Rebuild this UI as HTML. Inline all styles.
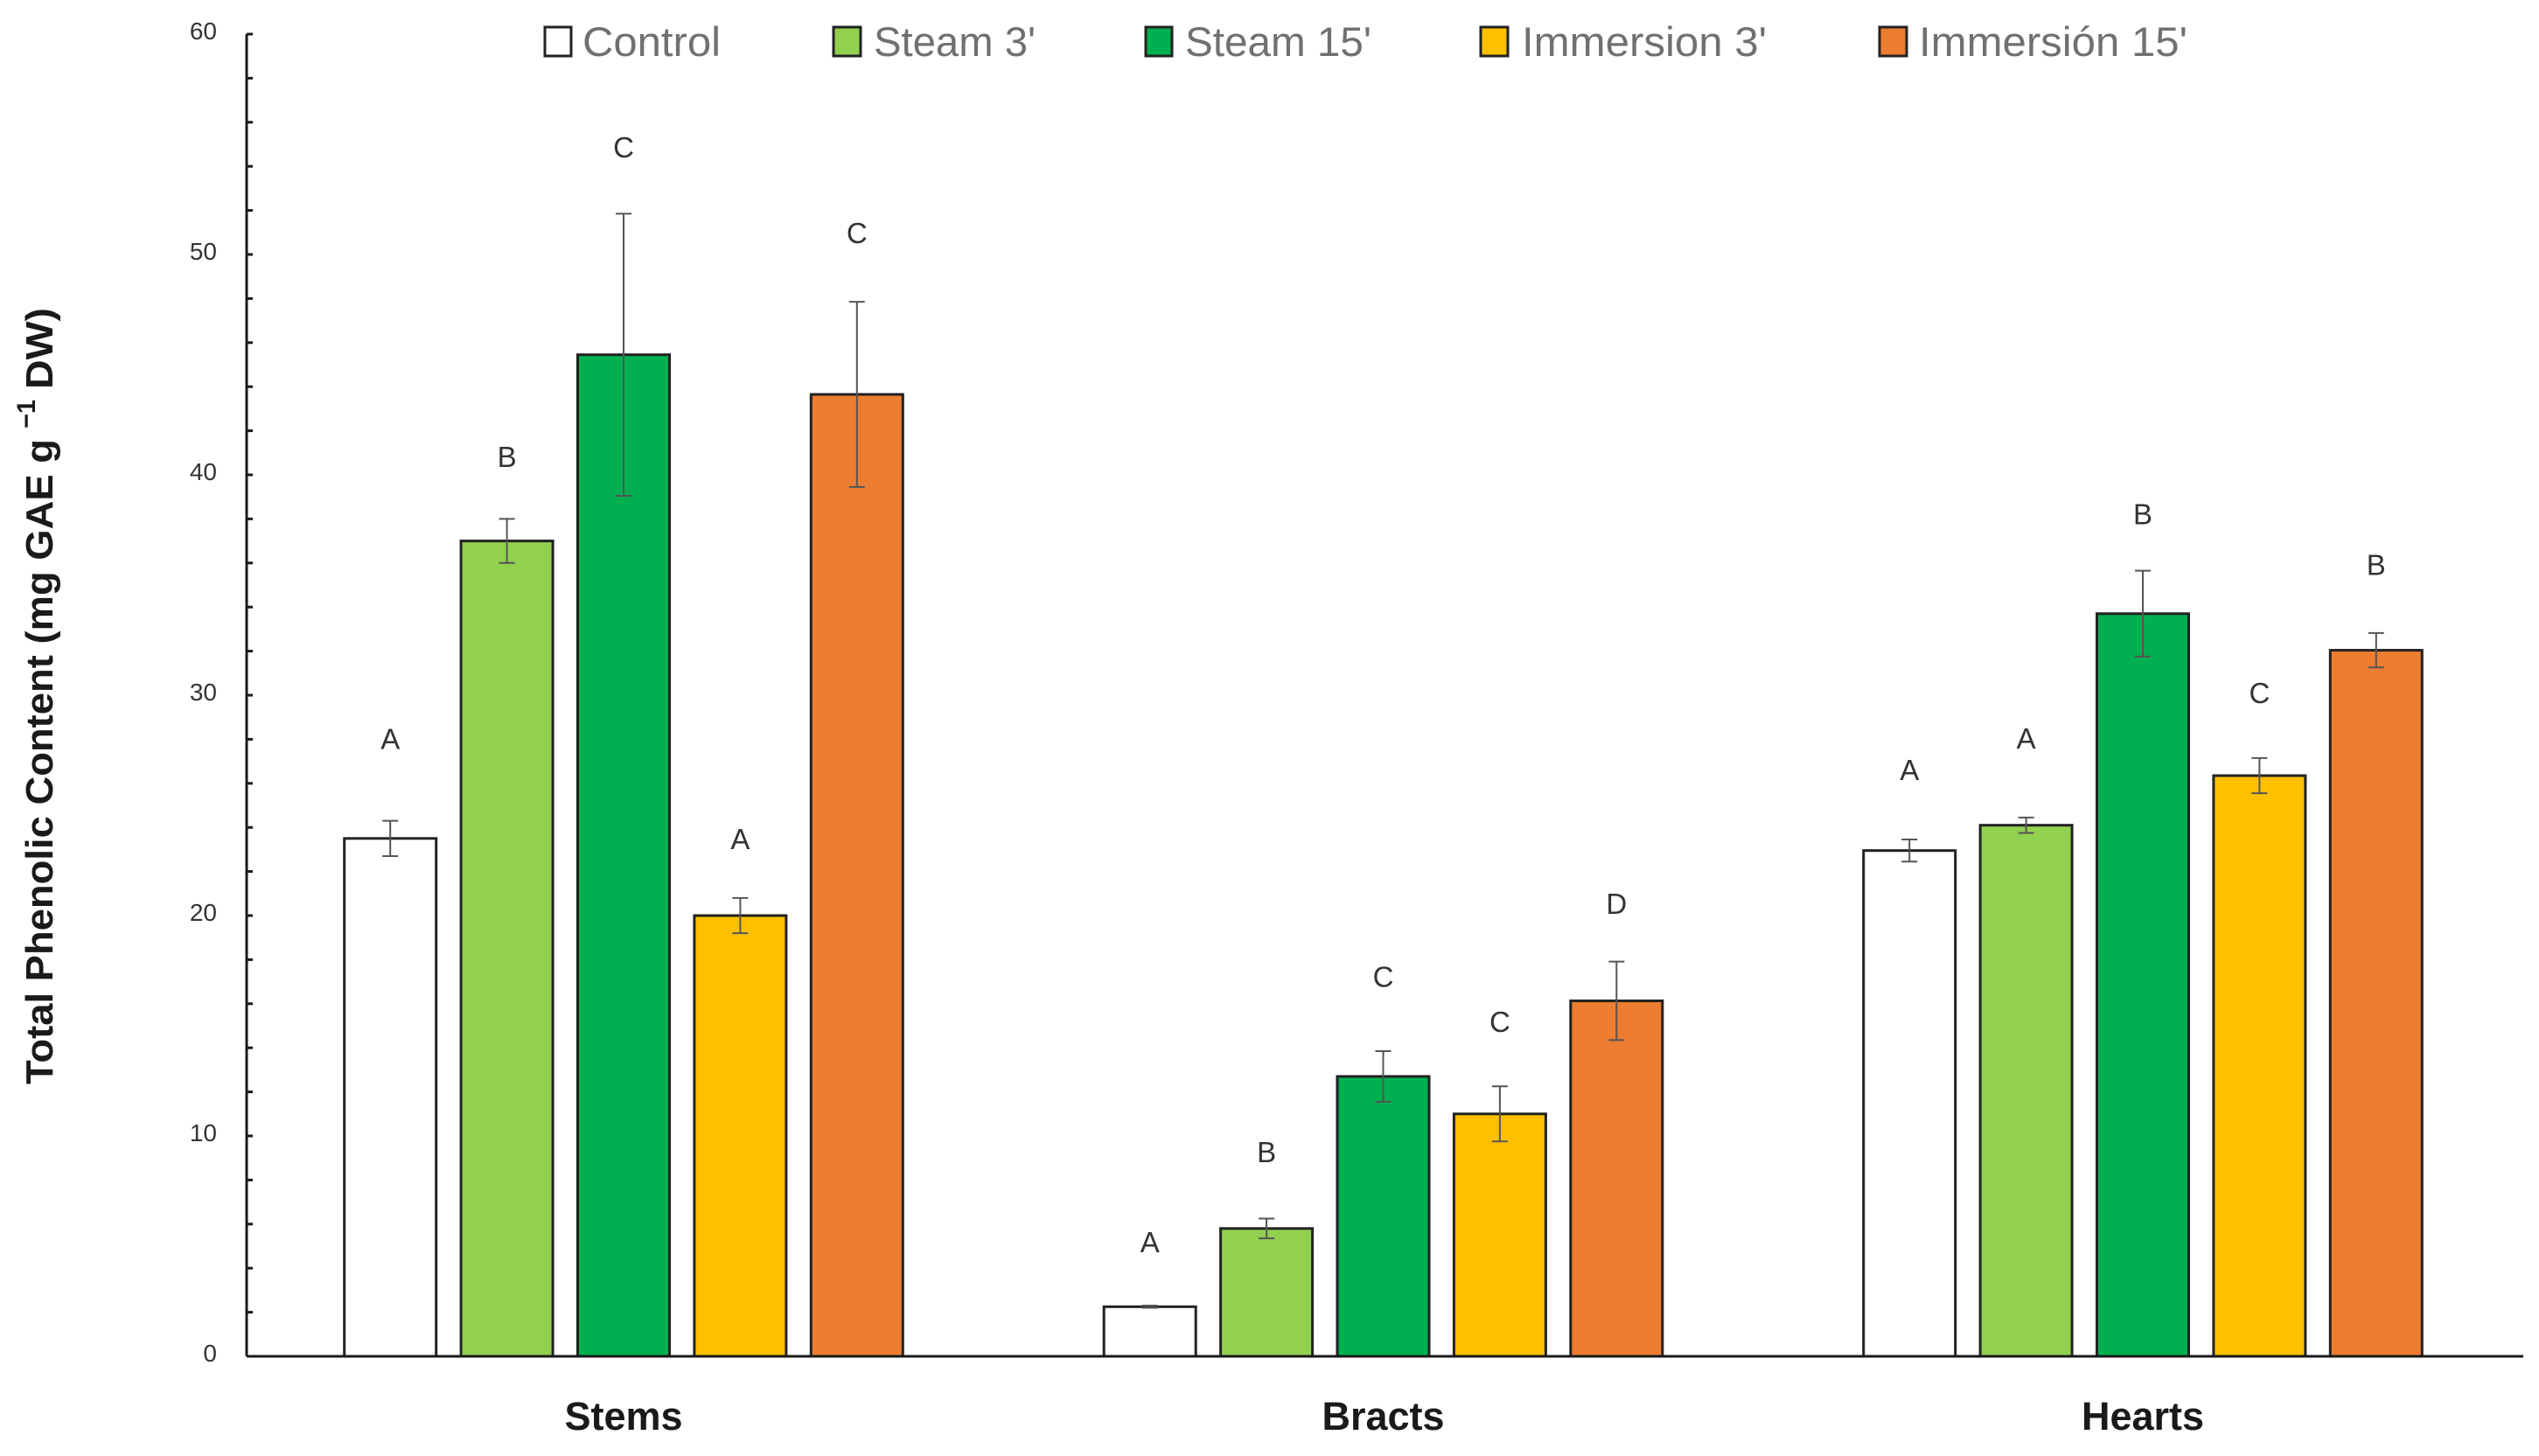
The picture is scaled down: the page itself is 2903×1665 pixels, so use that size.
<!DOCTYPE html>
<html lang="en">
<head>
<meta charset="utf-8">
<title>Total Phenolic Content</title>
<style>
  html, body { margin: 0; padding: 0; background: #ffffff; }
  svg { display: block; }
  text { font-family: "Liberation Sans", sans-serif; }
  .s0 { fill: #ffffff; }
  .s1 { fill: #92d050; }
  .s2 { fill: #00b050; }
  .s3 { fill: #ffc000; }
  .s4 { fill: #ed7d31; }
  .bar { stroke: #222222; stroke-width: 3; }
  .whisker { stroke: #555555; stroke-width: 2; fill: none; }
  .tick-label { font-size: 28px; fill: #333333; text-anchor: end; }
  .sig-letter { font-size: 33px; fill: #333333; text-anchor: middle; }
  .category-label { font-size: 45px; font-weight: bold; fill: #1a1a1a; text-anchor: middle; }
  .legend-text { font-size: 47px; fill: #707070; }
  .legend-swatch { stroke: #222222; stroke-width: 3; }
  .y-title { font-size: 44px; font-weight: bold; fill: #1a1a1a; }
</style>
</head>
<body>
<svg id="chart" xmlns="http://www.w3.org/2000/svg" width="2903" height="1665" viewBox="0 0 2903 1665">
  <rect x="0" y="0" width="2903" height="1665" fill="#ffffff"/>

  <g>
    <text class="y-title" transform="translate(60,1240) rotate(-90)" textLength="738" lengthAdjust="spacingAndGlyphs">Total Phenolic Content (mg GAE g</text>
    <text class="y-title" style="font-size:30px" transform="translate(40,490) rotate(-90)" textLength="33" lengthAdjust="spacingAndGlyphs">−1</text>
    <text class="y-title" transform="translate(60,445) rotate(-90)" textLength="93" lengthAdjust="spacingAndGlyphs">DW)</text>
  </g>

  <g>
    <g>
      <rect class="legend-swatch s0" x="623" y="31" width="30" height="33"/>
      <text class="legend-text" x="666" y="64" textLength="158" lengthAdjust="spacingAndGlyphs">Control</text>
    </g>
    <g>
      <rect class="legend-swatch s1" x="953" y="31" width="31" height="33"/>
      <text class="legend-text" x="999" y="64" textLength="185" lengthAdjust="spacingAndGlyphs">Steam 3'</text>
    </g>
    <g>
      <rect class="legend-swatch s2" x="1310" y="31" width="30" height="33"/>
      <text class="legend-text" x="1355" y="64" textLength="213" lengthAdjust="spacingAndGlyphs">Steam 15'</text>
    </g>
    <g>
      <rect class="legend-swatch s3" x="1693" y="31" width="31" height="33"/>
      <text class="legend-text" x="1740" y="64" textLength="280" lengthAdjust="spacingAndGlyphs">Immersion 3'</text>
    </g>
    <g>
      <rect class="legend-swatch s4" x="2149" y="31" width="31" height="33"/>
      <text class="legend-text" x="2194" y="64" textLength="307" lengthAdjust="spacingAndGlyphs">Immersión 15'</text>
    </g>
  </g>

  <g id="marks"></g>
  <g id="axes"></g>
</svg>

<script>
// ---- chart data ----
var categories = ['Stems', 'Bracts', 'Hearts'];
var seriesKeys = ['control', 'steam-3', 'steam-15', 'immersion-3', 'immersion-15'];

var controlValues     = [23.5, 2.25, 22.95];
var steam3Values      = [37.0, 5.8, 24.1];
var steam15Values     = [45.45, 12.7, 33.7];
var immersion3Values  = [20.0, 11.0, 26.35];
var immersion15Values = [43.65, 16.13, 32.04];

var controlErrors     = [0.8, 0.05, 0.5];
var steam3Errors      = [1.0, 0.45, 0.35];
var steam15Errors     = [6.4, 1.15, 1.95];
var immersion3Errors  = [0.8, 1.25, 0.8];
var immersion15Errors = [4.2, 1.78, 0.78];

var controlLetters     = ['A', 'A', 'A'];
var steam3Letters      = ['B', 'B', 'A'];
var steam15Letters     = ['C', 'C', 'B'];
var immersion3Letters  = ['A', 'C', 'C'];
var immersion15Letters = ['C', 'D', 'B'];

// distance from the whisker top to the letter, in axis units
var controlLetterGaps     = [3.7, 2.85, 3.14];
var steam3LetterGaps      = [2.8, 3.0, 3.56];
var steam15LetterGaps     = [3.0, 3.35, 2.55];
var immersion3LetterGaps  = [2.65, 2.9, 2.92];
var immersion15LetterGaps = [3.1, 2.6, 3.08];

var yTickLabels = [0, 10, 20, 30, 40, 50, 60];
var yMinorStep = 2;

var seriesValues = [controlValues, steam3Values, steam15Values, immersion3Values, immersion15Values];
var seriesErrors = [controlErrors, steam3Errors, steam15Errors, immersion3Errors, immersion15Errors];
var seriesLetters = [controlLetters, steam3Letters, steam15Letters, immersion3Letters, immersion15Letters];
var seriesLetterGaps = [controlLetterGaps, steam3LetterGaps, steam15LetterGaps, immersion3LetterGaps, immersion15LetterGaps];

// ---- axis functions ----
var NS = 'http://www.w3.org/2000/svg';
var AXIS_X = 282, AXIS_END = 2885, Y_ZERO = 1551, Y_TOP = 39, Y_MAX = 60;
var GROUP_FIRST = 713, GROUP_STEP = 868.5, SLOT_STEP = 133.4, BAR_WIDTH = 105, CAP_HALF = 9;

function yScale(v) { return Y_ZERO - (v / Y_MAX) * (Y_ZERO - Y_TOP); }
function groupCenter(i) { return GROUP_FIRST + i * GROUP_STEP; }
function barCenter(i, s) { return groupCenter(i) + (s - (seriesKeys.length - 1) / 2) * SLOT_STEP; }

function make(tag, parent) {
  var node = document.createElementNS(NS, tag);
  parent.appendChild(node);
  return node;
}
function setLine(node, x1, y1, x2, y2) {
  node.setAttribute('x1', x1);
  node.setAttribute('y1', y1);
  node.setAttribute('x2', x2);
  node.setAttribute('y2', y2);
}

var marks = document.getElementById('marks');
var axes = document.getElementById('axes');

// ---- bars, whiskers and letters ----
categories.forEach(function (cat, i) {
  var group = make('g', marks);
  
  

  seriesKeys.forEach(function (key, s) {
    var value = seriesValues[s][i];
    var err = seriesErrors[s][i];
    var cx = barCenter(i, s);
    var top = yScale(value);

    var bar = make('rect', group);
    bar.setAttribute('class', 'bar s' + s);
    bar.setAttribute('x', cx - BAR_WIDTH / 2);
    bar.setAttribute('y', top);
    bar.setAttribute('width', BAR_WIDTH);
    bar.setAttribute('height', yScale(0) - top);
    
    

    var whiskerTop = yScale(value + err);
    var whiskerBottom = yScale(value - err);
    var whisker = make('g', group);
    whisker.setAttribute('class', 'whisker');
    
    
    setLine(make('line', whisker), cx, whiskerTop, cx, whiskerBottom);
    setLine(make('line', whisker), cx - CAP_HALF, whiskerTop, cx + CAP_HALF, whiskerTop);
    setLine(make('line', whisker), cx - CAP_HALF, whiskerBottom, cx + CAP_HALF, whiskerBottom);

    var letter = make('text', group);
    letter.setAttribute('class', 'sig-letter');
    letter.setAttribute('x', cx);
    letter.setAttribute('y', yScale(value + err + seriesLetterGaps[s][i]) + 11);
    letter.textContent = seriesLetters[s][i];
    
    
  });

  var label = make('text', axes);
  label.setAttribute('class', 'category-label');
  label.setAttribute('x', groupCenter(i));
  label.setAttribute('y', 1635);
  label.textContent = cat;
  
  
});

// ---- y axis ----
var yAxisLine = make('line', axes);
setLine(yAxisLine, AXIS_X, Y_TOP, AXIS_X, Y_ZERO);
yAxisLine.setAttribute('stroke', '#1a1a1a');
yAxisLine.setAttribute('stroke-width', '3');



for (var t = 0; t <= Y_MAX; t += yMinorStep) {
  var tick = make('line', axes);
  setLine(tick, AXIS_X, yScale(t), AXIS_X + 7, yScale(t));
  tick.setAttribute('stroke', '#1a1a1a');
  tick.setAttribute('stroke-width', '3');
  
  
}

yTickLabels.forEach(function (v) {
  var tickText = make('text', axes);
  tickText.setAttribute('class', 'tick-label');
  tickText.setAttribute('x', 248);
  tickText.setAttribute('y', yScale(v) + 6);
  tickText.textContent = v;
  
  
});

// ---- x axis ----
var xAxisLine = make('line', axes);
setLine(xAxisLine, AXIS_X, Y_ZERO, AXIS_END, Y_ZERO);
xAxisLine.setAttribute('stroke', '#1a1a1a');
xAxisLine.setAttribute('stroke-width', '3');


</script>
</body>
</html>
